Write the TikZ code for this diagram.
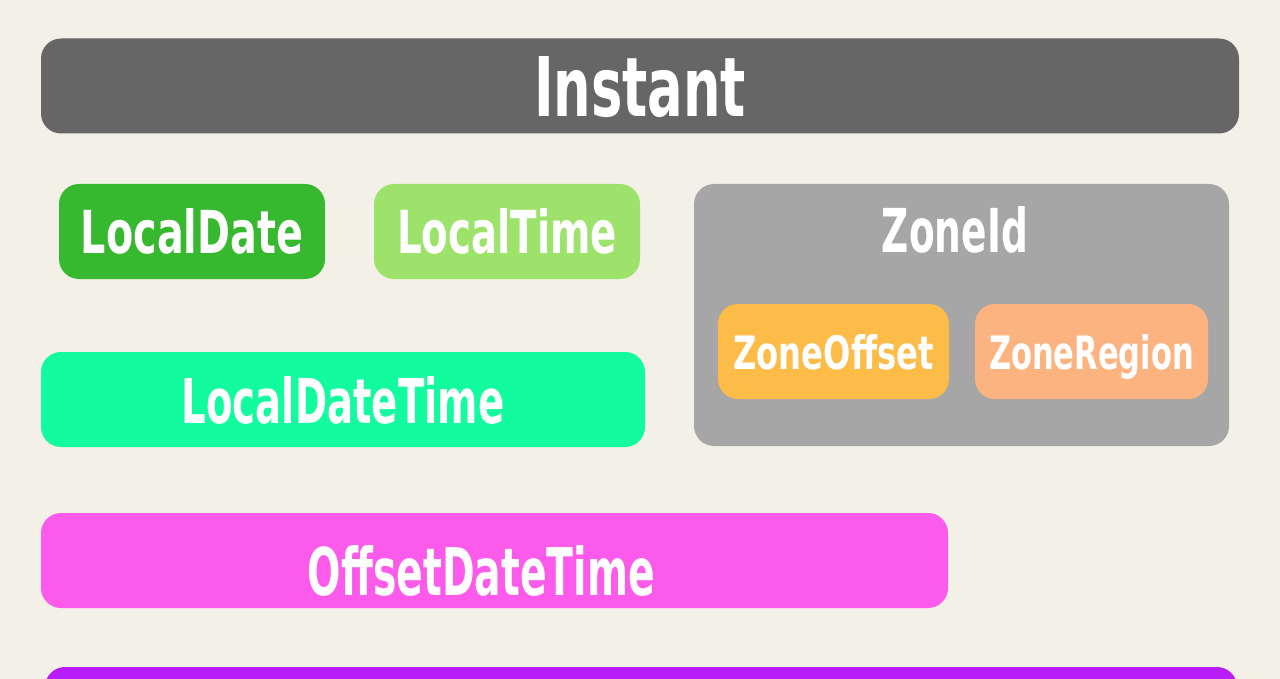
\documentclass[tikz,border=0pt]{standalone}
\usepackage{fontspec}
\setmainfont{DejaVu Sans}
\usepackage{graphicx}
\usepackage{xcolor}
\usepackage{tikz}
\usetikzlibrary{positioning}
\definecolor{paper}{HTML}{F3F1E7}
\definecolor{instantgray}{HTML}{666666}
\definecolor{dategreen}{HTML}{36B92F}
\definecolor{timegreen}{HTML}{9DE36B}
\definecolor{zonegray}{HTML}{A6A6A6}
\definecolor{offsetorange}{HTML}{FDBC48}
\definecolor{regionorange}{HTML}{FDB37F}
\definecolor{ldtgreen}{HTML}{12FB9F}
\definecolor{odtpink}{HTML}{FB5AEA}
\definecolor{zdtpurple}{HTML}{B81CF8}
\tikzset{tbox/.style={rounded corners=20pt, minimum height=95pt, inner sep=0pt, text=white, text depth=0pt}}
\tikzset{tlabel/.style={inner sep=0pt, text=white, text depth=0pt}}
\newcommand{\boxtext}[3]{\resizebox{#1pt}{#2pt}{\bfseries #3}}

\begin{document}
\begin{tikzpicture}[x=1pt,y=-1pt]
\clip (0,0) rectangle (1280,679);
\fill[paper] (0,0) rectangle (1280,679);
\node[tbox, fill=instantgray, minimum width=1198pt] (instant) at (640,86) {\boxtext{212}{60}{Instant}};
\node[tbox, fill=dategreen, minimum width=266pt] (ld) at (192,231.5) {\boxtext{222}{45}{LocalDate}};
\node[tbox, fill=timegreen, minimum width=266pt] (lt) at (507,231.5) {\boxtext{220}{45}{LocalTime}};
% zone box with its two children
\node[tbox, fill=zonegray, minimum width=535pt, minimum height=262pt] (zid) at (961.5,315) {};
\node[tlabel] (zidtext) at (955,230) {\boxtext{146}{46}{ZoneId}};
\node[tbox, fill=offsetorange, minimum width=231pt] (zo) at (833.5,351.5) {\boxtext{200}{35}{ZoneOffset}};
\node[tbox, fill=regionorange, minimum width=233pt] (zr) at (1091.5,351.5) {\boxtext{205}{35}{ZoneRegion}};
\node[tbox, fill=ldtgreen, minimum width=604pt] (ldt) at (343,399.5) {\boxtext{323}{47}{LocalDateTime}};
\node[tbox, fill=odtpink, minimum width=907pt] (odt) at (494.5,560.5) {};
\node[tlabel] (odttext) at (481.5,570) {\boxtext{347}{50}{OffsetDateTime}};
% runs past the bottom edge
\node[tbox, fill=zdtpurple, minimum width=1192pt] (zdt) at (641,714.5) {};
\end{tikzpicture}
\end{document}
